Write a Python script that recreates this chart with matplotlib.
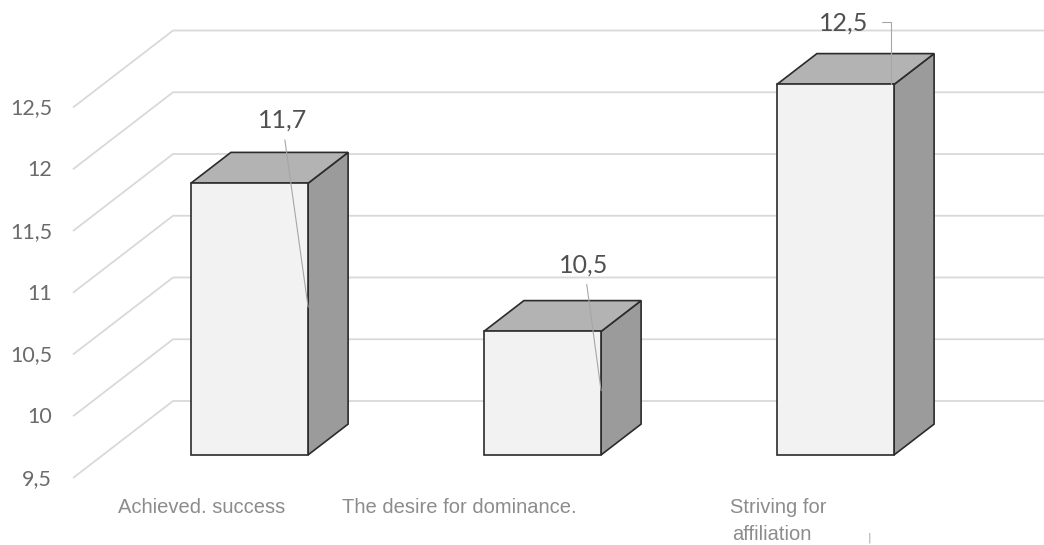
import matplotlib.pyplot as plt
import numpy as np

# data
categories = ["Achieved. success", "The desire for dominance.", "Striving for\naffiliation"]
values = [11.7, 10.5, 12.5]
value_labels = ["11,7", "10,5", "12,5"]
y_ticks = [9.5, 10, 10.5, 11, 11.5, 12, 12.5]
y_tick_labels = ["9,5", "10", "10,5", "11", "11,5", "12", "12,5"]

# pseudo-3D geometry (pixels at dpi 100)
W, H = 1044, 545
FLOOR_LEFT_PX = 73      # left edge of front floor
BASE_PX = 478           # y (from top) of 9.5 at the front
CAT_PX = 293            # pixels per category
UNIT_PX = 123.5         # pixels per value unit
DEPTH_DX, DEPTH_DY = 100, 77
BAR_HALF = 0.2
D0, D1 = 0.3, 0.7
Y0 = y_ticks[0]

fig = plt.figure(figsize=(W / 100, H / 100), dpi=100)
ax = fig.add_axes([0, 0, 1, 1])
ax.set_xlim(-0.5 - FLOOR_LEFT_PX / CAT_PX, -0.5 + (W - FLOOR_LEFT_PX) / CAT_PX)
ax.set_ylim(Y0 - (H - BASE_PX) / UNIT_PX, Y0 + BASE_PX / UNIT_PX)
ax.axis("off")


def at_depth(pts, d):
    """Shift data points back by depth d (0 = front, 1 = back wall)."""
    disp = ax.transData.transform(np.asarray(pts, dtype=float))
    disp[:, 0] += d * DEPTH_DX
    disp[:, 1] += d * DEPTH_DY
    return ax.transData.inverted().transform(disp)


n = len(categories)
grid_color = "#d9d9d9"

# side wall + back wall gridlines
for v in y_ticks:
    front = at_depth([(-0.5, v)], 0)
    back = at_depth([(-0.5, v), (n - 0.5 + 0.2, v)], 1)
    pts = np.vstack([front, back])
    ax.plot(pts[:, 0], pts[:, 1], color=grid_color, lw=1.3, zorder=1,
            solid_capstyle="butt")

# bars
edge = "#2b2b2b"
for i, v in enumerate(values):
    x0, x1 = i - BAR_HALF, i + BAR_HALF
    side = np.vstack([at_depth([(x1, Y0)], D0), at_depth([(x1, Y0), (x1, v)], D1),
                      at_depth([(x1, v)], D0)])
    top = np.vstack([at_depth([(x0, v), (x1, v)], D0), at_depth([(x1, v), (x0, v)], D1)])
    front = at_depth([(x0, Y0), (x1, Y0), (x1, v), (x0, v)], D0)
    ax.fill(side[:, 0], side[:, 1], facecolor="#9b9b9b", edgecolor=edge, lw=1.2, zorder=3)
    ax.fill(top[:, 0], top[:, 1], facecolor="#b3b3b3", edgecolor=edge, lw=1.2, zorder=3)
    ax.fill(front[:, 0], front[:, 1], facecolor="#f2f2f2", edgecolor=edge, lw=1.2, zorder=4)

# data labels with leader lines
leader = dict(arrowstyle="-", color="#a6a6a6", lw=0.8, shrinkB=0)
anchor_frac = [0.544, 0.52, 1.0]
anchor_dx = [0.0, 0.0, -0.01]
text_off = [(-26, 187), (-17, 126), (-48, 61)]
for i, v in enumerate(values):
    ay = Y0 + (v - Y0) * anchor_frac[i]
    ax_, ay_ = at_depth([(i + BAR_HALF + anchor_dx[i], ay)], D0)[0]
    props = dict(leader, shrinkA=4)
    if i == 2:
        props.update(connectionstyle="angle,angleA=0,angleB=90,rad=0",
                     relpos=(1, 0.55), shrinkA=8)
    ax.annotate(value_labels[i], xy=(ax_, ay_), xytext=text_off[i],
                textcoords="offset pixels", ha="center", va="center",
                fontsize=18, family="Lato", color="#505050",
                arrowprops=props, zorder=6)

# y tick labels
for v, lab in zip(y_ticks, y_tick_labels):
    ax.annotate(lab, xy=(-0.5, v), xytext=(-21, -1), textcoords="offset pixels",
                ha="right", va="center", fontsize=15.5, family="Lato", color="#6b6b6b")

# category labels (wrapped lines placed one under another)
cat_dx = [-17.5, -53.5, -76]
cat_ha = ["center", "center", "left"]
for i, lab in enumerate(categories):
    for j, line in enumerate(lab.split("\n")):
        ax.annotate(line, xy=(i, Y0), xytext=(cat_dx[i] + 3 * j, -35 - 27 * j),
                    textcoords="offset pixels", ha=cat_ha[i], va="baseline",
                    fontsize=14.5, family="Liberation Sans", color="#8c8c8c")

# stray tick seen under the last category
ax.annotate("|", xy=(n - 1, Y0), xytext=(64, -60), textcoords="offset pixels",
            ha="center", va="center", fontsize=8, color="#a0a0a0")

fig.savefig("out.png", dpi=100)
